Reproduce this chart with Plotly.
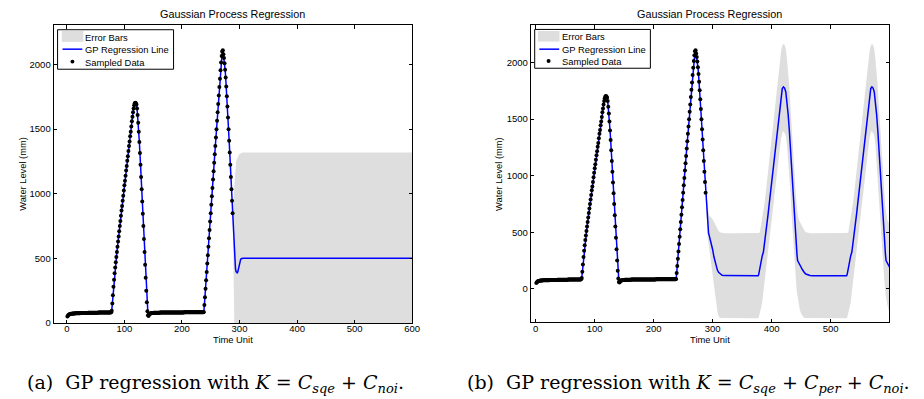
import plotly.graph_objects as go

W, H = 924, 399

# ---------------- data ----------------
# sampled water level data, one sample per time unit starting at t = 1
sample_y = [
    50, 58, 63, 66, 68, 70, 71, 72, 72, 73,
    73, 74, 74, 74, 75, 75, 75, 75, 76, 76,
    76, 76, 76, 77, 77, 77, 77, 77, 77, 78,
    78, 78, 78, 78, 78, 78, 79, 79, 79, 79,
    79, 79, 79, 79, 80, 80, 80, 80, 80, 80,
    80, 80, 80, 80, 81, 81, 81, 81, 81, 81,
    81, 81, 81, 81, 81, 81, 82, 82, 82, 82,
    82, 82, 82, 82, 82, 82, 83,
    95, 150, 215, 280, 335, 385, 430, 470, 510, 550,
    590, 630, 670, 710, 750, 790, 830, 870, 905, 945,
    985, 1025, 1065, 1100, 1140, 1180, 1215, 1255, 1290, 1330,
    1370, 1405, 1445, 1480, 1520, 1560, 1595, 1630, 1660, 1685,
    1700, 1705, 1700,
    1690, 1660, 1610, 1550, 1480, 1400, 1315, 1225, 1130, 1035,
    940, 845, 750, 650, 550, 450, 350, 250, 160, 90,
    60, 55, 65,
    70, 73, 75, 76, 77, 78, 78, 79, 79, 79,
    79, 80, 80, 80, 80, 80, 80, 80, 81, 81,
    81, 81, 81, 81, 81, 81, 81, 81, 81, 81,
    82, 82, 82, 82, 82, 82, 82, 82, 82, 82,
    82, 82, 82, 82, 82, 82, 82, 82, 82, 82,
    82, 82, 82, 82, 82, 82, 82, 82, 82, 82,
    83, 83, 83, 83, 83, 83, 83, 83, 83, 83,
    83, 83, 83, 83, 83, 83, 83, 83, 83, 83,
    83, 83, 83, 83, 84, 84, 84, 84, 84, 84,
    84, 84, 84, 84,
    85, 140, 200, 265, 330, 395, 460, 525, 590, 655,
    720, 785, 850, 915, 980, 1045, 1110, 1175, 1240, 1305,
    1370, 1435, 1500, 1565, 1630, 1695, 1760, 1825, 1890, 1955,
    2015, 2065, 2100, 2110,
    2080, 2050, 2010, 1960, 1900, 1830, 1755, 1675, 1590, 1500,
    1410, 1320, 1225, 1130, 1035, 945, 850,
]
sample_x = list(range(1, len(sample_y) + 1))

# (a) prediction with K = Csqe + Cnoi
pred_a_x = [288, 289, 290, 291, 292, 293, 294, 295, 296, 297, 298, 299, 300,
            301, 302, 303, 304, 306, 310, 600]
pred_a_mean = [850, 740, 620, 530, 460, 420, 398, 390, 388, 395, 415, 440, 465,
               482, 492, 497, 499, 500, 500, 500]
pred_a_upper = [850, 890, 950, 1060, 1160, 1210, 1248, 1265, 1278, 1288, 1295, 1302, 1308,
                1312, 1315, 1317, 1318, 1319, 1320, 1320]
pred_a_lower = [850, 590, 290, 0, -240, -370, -450, -480, -500, -500, -465, -420, -380,
                -350, -330, -323, -320, -320, -320, -320]

# (b) prediction with K = Csqe + Cper + Cnoi
pred_b_x = [
    288, 289, 290, 291, 292, 293, 294, 295, 296, 297, 298, 300, 302, 304, 306, 308, 310, 313, 316, 320,
    340, 360, 377, 378,
    380, 382, 384, 386, 388, 390, 392, 394, 396, 398, 400, 402, 404, 406, 408, 410,
    412, 414, 416, 418, 420, 422, 424, 426, 428, 430, 432, 434, 436, 438, 440, 442,
    443, 444, 446, 448, 450, 452, 454, 456, 458, 461, 465, 470,
    490, 510, 527, 528,
    530, 532, 534, 536, 538, 540, 542, 544, 546, 548, 550, 552, 554, 556, 558, 560,
    562, 564, 566, 568, 570, 572, 574, 576, 578, 580, 582, 584, 586, 588, 590, 592,
    593, 594, 596, 598, 600,
]
pred_b_mean = [
    850, 770, 680, 595, 530, 490, 474, 455, 430, 410, 395, 345, 285, 235, 195, 165, 145, 128, 119, 116,
    115, 115, 115, 125,
    190, 250, 290, 325, 400, 480, 570, 660, 755, 850, 950, 1045, 1140, 1240, 1340, 1440,
    1540, 1630, 1720, 1770, 1785, 1775, 1740, 1650, 1540, 1400, 1220, 1030, 860, 690, 530, 390,
    300, 250, 225, 210, 190, 170, 152, 140, 130, 122, 117, 115,
    115, 115, 115, 125,
    190, 250, 290, 325, 400, 480, 570, 660, 755, 850, 950, 1045, 1140, 1240, 1340, 1440,
    1540, 1630, 1720, 1770, 1785, 1775, 1740, 1650, 1540, 1400, 1220, 1030, 860, 690, 530, 390,
    300, 250, 225, 210, 190,
]
pred_b_upper = [
    850, 870, 790, 740, 700, 670, 650, 640, 636, 634, 630, 615, 595, 570, 545, 525, 510, 498, 492, 490,
    490, 490, 490, 492,
    500, 560, 640, 700, 760, 850, 950, 1040, 1140, 1240, 1340, 1430, 1530, 1630, 1730, 1830,
    1930, 2020, 2100, 2150, 2165, 2155, 2120, 2030, 1920, 1780, 1600, 1410, 1240, 1070, 910, 770,
    710, 660, 610, 590, 570, 545, 525, 510, 500, 494, 491, 490,
    490, 490, 490, 492,
    500, 560, 640, 700, 760, 850, 950, 1040, 1140, 1240, 1340, 1430, 1530, 1630, 1730, 1830,
    1930, 2020, 2100, 2150, 2165, 2155, 2120, 2030, 1920, 1780, 1600, 1410, 1240, 1070, 910, 770,
    710, 660, 610, 590, 570,
]
pred_b_lower = [
    850, 700, 610, 520, 440, 380, 330, 290, 250, 210, 170, 100, 40, -40, -120, -200, -245, -258, -262, -262,
    -262, -262, -262, -255,
    -230, -170, -120, -70, 20, 110, 195, 285, 375, 465, 560, 655, 750, 850, 950, 1050,
    1150, 1240, 1330, 1380, 1395, 1385, 1355, 1270, 1160, 1020, 840, 650, 480, 310, 150, 10,
    -40, -80, -140, -190, -220, -240, -252, -258, -262, -262, -262, -262,
    -262, -262, -262, -255,
    -230, -170, -120, -70, 20, 110, 195, 285, 375, 465, 560, 655, 750, 850, 950, 1050,
    1150, 1240, 1330, 1380, 1395, 1385, 1355, 1270, 1160, 1020, 840, 650, 480, 310, 150, 10,
    -40, -80, -140, -190, -220,
]

x_ticks_a = [0, 100, 200, 300, 400, 500, 600]
x_ticks_b = [0, 100, 200, 300, 400, 500]
y_ticks = [0, 500, 1000, 1500, 2000]

title_text = "Gaussian Process Regression"
xlabel_text = "Time Unit"
ylabel_text = "Water Level (mm)"
legend_labels = ["Error Bars", "GP Regression Line", "Sampled Data"]

# ---------------- style ----------------
SANS = "Liberation Sans, Arial, Helvetica, sans-serif"
SERIF = "DejaVu Serif, serif"
BAND = "#dedede"
BLUE = "#0000ff"
CAP_SIZE = 19
SUB_SIZE = 13


def rm(s):
    return '<span style="font-size:%spx">%s</span>' % (CAP_SIZE, s)


def it(s, size):
    return '<span style="font-style:italic;font-size:%spx">%s</span>' % (size, s)


def sym(main, sub):
    return it(main, CAP_SIZE) + "<sub>" + it(sub, SUB_SIZE) + "</sub>"


caption_a = (rm("(a)&nbsp; GP regression with ") + it("K", CAP_SIZE) + rm(" = ")
             + sym("C", "sqe") + rm(" + ") + sym("C", "noi") + rm("."))
caption_b = (rm("(b)&nbsp; GP regression with ") + it("K", CAP_SIZE) + rm(" = ")
             + sym("C", "sqe") + rm(" + ") + sym("C", "per") + rm(" + ")
             + sym("C", "noi") + rm("."))


def fx(p):
    return p / W


def fy(p):
    return 1 - p / H


fig = go.Figure()


def add_panel(xa, ya, px_, pmean, pup, plo):
    fig.add_trace(go.Scatter(
        x=px_ + px_[::-1], y=pup + plo[::-1], fill="toself", fillcolor=BAND,
        mode="lines", line=dict(width=0, color=BAND), hoverinfo="skip",
        xaxis=xa, yaxis=ya, showlegend=False, name=legend_labels[0]))
    fig.add_trace(go.Scatter(
        x=sample_x + px_, y=sample_y + pmean, mode="lines",
        line=dict(color=BLUE, width=1.5), xaxis=xa, yaxis=ya,
        showlegend=False, name=legend_labels[1]))
    fig.add_trace(go.Scatter(
        x=sample_x, y=sample_y, mode="markers",
        marker=dict(color="black", size=4, line=dict(width=0)),
        xaxis=xa, yaxis=ya, showlegend=False, name=legend_labels[2]))


add_panel("x", "y", pred_a_x, pred_a_mean, pred_a_upper, pred_a_lower)
add_panel("x2", "y2", pred_b_x, pred_b_mean, pred_b_upper, pred_b_lower)

axis_common = dict(
    showline=True, linecolor="black", linewidth=1, mirror="ticks",
    ticks="inside", ticklen=3.5, tickwidth=1, tickcolor="black",
    showgrid=False, zeroline=False,
    tickfont=dict(family=SANS, size=9.5, color="black"),
)

fig.update_layout(
    width=W, height=H, autosize=False,
    margin=dict(l=0, r=0, t=0, b=0),
    paper_bgcolor="white", plot_bgcolor="white",
    showlegend=False,
    xaxis=dict(domain=[fx(46), fx(408)], range=[-23, 600.5], tickvals=x_ticks_a,
               anchor="y", ticklabelstandoff=-3, **axis_common),
    yaxis=dict(domain=[fy(319), fy(17.3)], range=[0, 2305], tickvals=y_ticks,
               anchor="x", **axis_common),
    xaxis2=dict(domain=[fx(527.3), fx(889)], range=[-8.5, 599.5], tickvals=x_ticks_b,
                anchor="y2", ticklabelstandoff=-3, **axis_common),
    yaxis2=dict(domain=[fy(318.3), fy(17.3)], range=[-297, 2332], tickvals=y_ticks,
                anchor="x2", **axis_common),
)

annotations = []
shapes = []


def text(x, y, s, size, family=SANS, xanchor="center", angle=0):
    annotations.append(dict(
        x=fx(x), y=fy(y), xref="paper", yref="paper", text=s, showarrow=False,
        xanchor=xanchor, yanchor="middle", textangle=angle, borderpad=0,
        font=dict(family=family, size=size, color="black")))


# titles and axis labels
for cx, ylab_x in [(226.7, 15), (707.8, 495.3)]:
    text(cx, 6, title_text, 10.8)
    text(cx, 335.5, xlabel_text, 9.4)
    text(ylab_x, 168, ylabel_text, 9.3, angle=-90)


def legend(box, patch, line, dot, tx, tys):
    shapes.append(dict(type="rect", xref="paper", yref="paper",
                       x0=fx(box[0]), x1=fx(box[2]), y0=fy(box[3]), y1=fy(box[1]),
                       line=dict(color="black", width=1), fillcolor="white", layer="above"))
    shapes.append(dict(type="rect", xref="paper", yref="paper",
                       x0=fx(patch[0]), x1=fx(patch[2]), y0=fy(patch[3]), y1=fy(patch[1]),
                       line=dict(width=0), fillcolor=BAND, layer="above"))
    shapes.append(dict(type="line", xref="paper", yref="paper",
                       x0=fx(line[0]), x1=fx(line[1]), y0=fy(line[2]), y1=fy(line[2]),
                       line=dict(color=BLUE, width=1.5), layer="above"))
    shapes.append(dict(type="circle", xref="paper", yref="paper",
                       x0=fx(dot[0] - 2), x1=fx(dot[0] + 2), y0=fy(dot[1] + 2), y1=fy(dot[1] - 2),
                       line=dict(width=0), fillcolor="black", layer="above"))
    for lab, ty in zip(legend_labels, tys):
        text(tx, ty, lab, 9.4, xanchor="left")


legend((50, 22, 167, 62), (54.3, 23.3, 76, 34.3), (55, 75, 41.7), (65, 54.3), 77,
       (29.7, 41.7, 54.7))
legend((531.3, 21.7, 648, 61), (534.7, 23.3, 556.3, 34), (536, 556, 41.7), (545.3, 53.7), 557.7,
       (28.7, 41.7, 53.7))

# captions
text(18, 380.5, caption_a, CAP_SIZE, family=SERIF, xanchor="left")
text(462, 380.5, caption_b, CAP_SIZE, family=SERIF, xanchor="left")

fig.update_layout(annotations=annotations, shapes=shapes)
fig.write_html("out.html")
